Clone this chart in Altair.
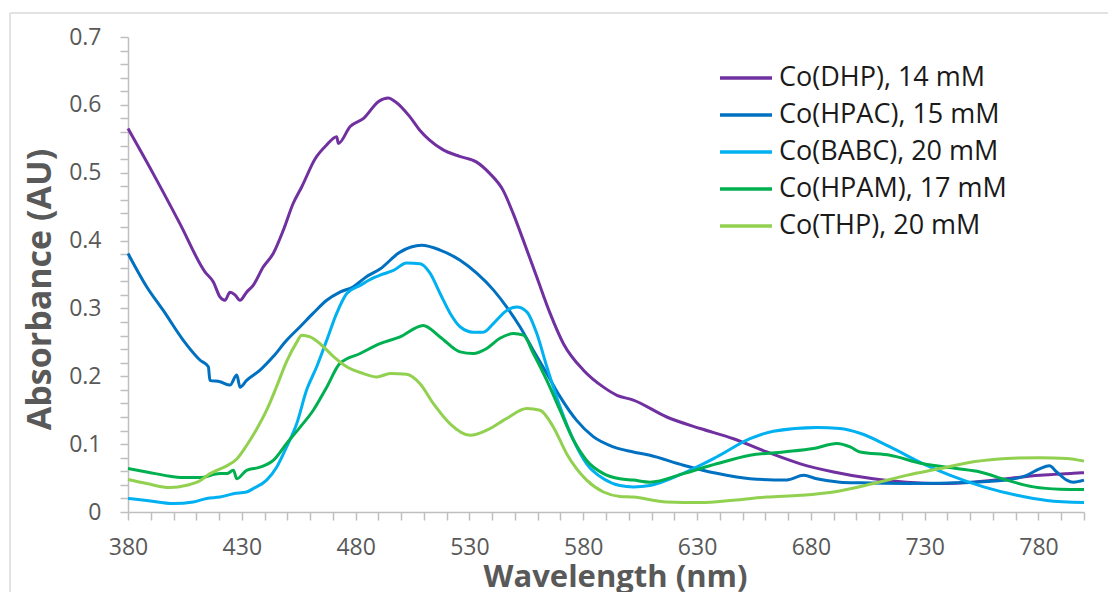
import altair as alt
import pandas as pd

# Absorption spectra of the cobalt complexes (wavelength in nm, absorbance in AU)
names = ["Co(DHP), 14 mM", "Co(HPAC), 15 mM", "Co(BABC), 20 mM", "Co(HPAM), 17 mM", "Co(THP), 20 mM"]
colors = ["#7030A0", "#0070C0", "#00B0F0", "#00B050", "#92D050"]

wl_dhp = [380, 391, 402.8, 413.8, 417.5, 420.4, 422.6, 424.8, 427, 429.2, 432.1, 435, 439.4, 443.8,
          448.2, 452.6, 456.3, 462.3, 467.3, 471.7, 472.4, 477.6, 483.5, 490.1, 494.3, 497.3, 503.7,
          508.1, 512.5, 518.3, 525.7, 533, 538.9, 544.8, 549.2, 553.6, 559.5, 565.4, 571.3, 580.1,
          588.9, 594.8, 602, 616.7, 631.4, 646, 660.7, 675.4, 690, 707.4, 722, 736.7, 751.4, 766,
          780.7, 795.3, 800]
abs_dhp = [0.565, 0.499, 0.425, 0.354, 0.339, 0.317, 0.312, 0.324, 0.320, 0.312, 0.324, 0.334, 0.361,
           0.381, 0.415, 0.455, 0.479, 0.521, 0.541, 0.553, 0.543, 0.568, 0.580, 0.605, 0.610, 0.605,
           0.583, 0.563, 0.548, 0.534, 0.524, 0.516, 0.499, 0.474, 0.440, 0.401, 0.347, 0.293, 0.248,
           0.209, 0.184, 0.172, 0.165, 0.140, 0.123, 0.108, 0.0885, 0.071, 0.059, 0.049, 0.044, 0.042,
           0.044, 0.049, 0.054, 0.057, 0.058]

wl_hpac = [380, 388.2, 395.5, 404.3, 411.6, 415.3, 416, 420.4, 424.8, 427.8, 429.2, 432.1, 438, 443.8,
           449.7, 455.6, 461.4, 467.3, 473.1, 479, 484.9, 490.7, 499.5, 509, 517.1, 525.9, 533.2,
           540.6, 546.4, 552.2, 558.1, 564, 569.8, 577.1, 584.4, 593.2, 602, 609.3, 624, 638.6, 653.3,
           669.4, 676.8, 682.6, 692.8, 701.6, 722, 751.4, 766, 774.8, 780.7, 784.8, 788, 792.4, 795.3, 800]
abs_hpac = [0.381, 0.332, 0.297, 0.253, 0.224, 0.214, 0.194, 0.192, 0.187, 0.202, 0.184, 0.194, 0.209,
            0.229, 0.253, 0.273, 0.293, 0.312, 0.324, 0.332, 0.347, 0.358, 0.383, 0.393, 0.386, 0.371,
            0.352, 0.327, 0.302, 0.273, 0.238, 0.204, 0.170, 0.135, 0.111, 0.096, 0.0885, 0.0836, 0.069,
            0.057, 0.049, 0.047, 0.054, 0.049, 0.044, 0.043, 0.042, 0.044, 0.047, 0.054, 0.064, 0.068,
            0.059, 0.047, 0.044, 0.047]

wl_babc = [380, 388.2, 399.9, 408.7, 414.6, 420.4, 426.3, 432.1, 435, 440.9, 445.3, 449.7, 454.1, 458.5,
           462.9, 467.3, 471.7, 476.1, 482, 487.8, 490.7, 496.6, 502.4, 508.3, 512.7, 517.1, 521.5,
           525.9, 531.7, 536.1, 540.6, 546.4, 550.8, 555.2, 559.6, 564, 569.8, 575.7, 581.5, 588.9,
           596.1, 602, 609.3, 624, 638.6, 653.3, 663.5, 682.6, 692.8, 701.6, 714.8, 729.4, 741.3, 755.9,
           770.5, 783.7, 800]
abs_babc = [0.020, 0.017, 0.0124, 0.0147, 0.020, 0.022, 0.027, 0.0295, 0.0345, 0.047, 0.066, 0.096,
            0.130, 0.180, 0.214, 0.253, 0.293, 0.322, 0.334, 0.345, 0.349, 0.356, 0.367, 0.366, 0.352,
            0.322, 0.293, 0.273, 0.265, 0.265, 0.278, 0.297, 0.302, 0.295, 0.263, 0.214, 0.155, 0.106,
            0.071, 0.049, 0.039, 0.037, 0.039, 0.057, 0.081, 0.108, 0.119, 0.1245, 0.123, 0.116, 0.096,
            0.071, 0.054, 0.037, 0.0246, 0.017, 0.0139]

wl_hpam = [380, 388.2, 399.9, 405.8, 411.6, 420.4, 423.4, 426.3, 427.8, 432.1, 438, 443.8, 449.7, 455.6,
           461.4, 467.3, 473.1, 482, 490.7, 499.5, 509.7, 517.1, 525.9, 531.7, 537.6, 543.4, 549.3,
           553.7, 558.1, 564, 569.8, 575.7, 581.5, 588.9, 596.1, 602, 609.3, 624, 638.6, 653.3, 668,
           681.2, 691.4, 697.3, 701.6, 714.8, 729.4, 744.1, 754.3, 766, 777.8, 789.5, 800]
abs_hpam = [0.064, 0.059, 0.052, 0.0507, 0.0507, 0.0566, 0.0566, 0.0615, 0.049, 0.0615, 0.066, 0.076,
            0.101, 0.125, 0.150, 0.184, 0.219, 0.2336, 0.248, 0.258, 0.275, 0.258, 0.236, 0.2336, 0.241,
            0.256, 0.263, 0.2606, 0.2336, 0.194, 0.150, 0.106, 0.076, 0.0566, 0.049, 0.047, 0.044,
            0.0566, 0.071, 0.0836, 0.0885, 0.0935, 0.101, 0.0959, 0.0885, 0.0836, 0.071, 0.064, 0.059,
            0.047, 0.037, 0.0335, 0.033]

wl_thp = [380, 388.2, 398.5, 405.8, 411.6, 416, 419, 423.4, 427.8, 432.1, 436.5, 440.9, 445.3, 449.7,
          454.1, 456.3, 460, 464.4, 470.3, 476.1, 483.5, 489.3, 495.2, 502.4, 508.3, 514.1, 521.5,
          530.3, 537.6, 546.4, 555.2, 561, 566.9, 572.7, 581.5, 588.9, 596.1, 602, 616.7, 631.4, 646,
          660.7, 675.4, 690, 707.4, 722, 736.7, 751.4, 766, 780.7, 792.4, 800]
abs_thp = [0.048, 0.042, 0.036, 0.0394, 0.046, 0.0566, 0.0615, 0.068, 0.078, 0.098, 0.122, 0.150,
           0.185, 0.222, 0.250, 0.2606, 0.258, 0.248, 0.229, 0.214, 0.204, 0.199, 0.204, 0.203, 0.189,
           0.160, 0.130, 0.113, 0.1205, 0.138, 0.1525, 0.150, 0.125, 0.086, 0.047, 0.0295, 0.023, 0.022,
           0.0147, 0.0139, 0.0173, 0.022, 0.0246, 0.0295, 0.042, 0.054, 0.064, 0.074, 0.079, 0.080,
           0.079, 0.075]

x_ticks = list(range(380, 801, 10))
y_ticks = [round(i * 0.02, 2) for i in range(36)]

rows = []
for name, wl, ab in zip(names, [wl_dhp, wl_hpac, wl_babc, wl_hpam, wl_thp],
                        [abs_dhp, abs_hpac, abs_babc, abs_hpam, abs_thp]):
    rows += [{"series": name, "wavelength": w, "absorbance": a} for w, a in zip(wl, ab)]
df = pd.DataFrame(rows)
legend_df = pd.DataFrame({"series": names, "idx": list(range(len(names)))})

W, H = 956, 475
frame_color = "#d9d9d9"
one = pd.DataFrame({"k": [0]})
color_scale = alt.Scale(domain=names, range=colors)

# light grey frame around the whole figure (top and left edges)
frame_top = alt.Chart(one).mark_rule(color=frame_color, strokeWidth=1.5).encode(
    x=alt.value(-118), x2=alt.value(W + 30), y=alt.value(-24)
)
frame_left = alt.Chart(one).mark_rule(color=frame_color, strokeWidth=1.5).encode(
    x=alt.value(-118), y=alt.value(-24), y2=alt.value(H + 90)
)

lines = alt.Chart(df).mark_line(strokeWidth=3, interpolate="monotone").encode(
    x=alt.X(
        "wavelength:Q",
        scale=alt.Scale(domain=[380, 800], nice=False, zero=False),
        axis=alt.Axis(
            values=x_ticks, format="d",
            labelExpr="(datum.value - 380) % 50 == 0 ? datum.label : ''",
            title="Wavelength (nm)", titleX=487, titleY=74,
            titleAlign="center", titleBaseline="alphabetic",
            labelPadding=16,
        ),
    ),
    y=alt.Y(
        "absorbance:Q",
        scale=alt.Scale(domain=[0, 0.7], nice=False),
        axis=alt.Axis(
            values=y_ticks,
            labelExpr="round(datum.value * 100) % 10 == 0 ? (datum.value == 0 ? '0' : format(datum.value, '.1f')) : ''",
            title="Absorbance (AU)", titleX=-88, titleY=252, titleAngle=270,
            titleAlign="center", titleBaseline="middle", titleFontSize=34,
            labelPadding=19,
        ),
    ),
    color=alt.Color("series:N", sort=names, scale=color_scale, legend=None),
)

# legend: a short coloured stroke and a label per series, stacked in the upper right
legend_base = alt.Chart(legend_df).transform_calculate(ly="41 + 37 * datum.idx")
legend_keys = legend_base.mark_rule(strokeWidth=3.5).encode(
    x=alt.value(592), x2=alt.value(644),
    y=alt.Y("ly:Q", scale=None),
    color=alt.Color("series:N", sort=names, scale=color_scale, legend=None),
)
legend_labels = legend_base.mark_text(
    align="left", baseline="middle", fontSize=27, font="Open Sans", color="#1a1a1a"
).encode(
    x=alt.value(651),
    y=alt.Y("ly:Q", scale=None),
    text="series:N",
)

chart = alt.layer(frame_top, frame_left, lines, legend_keys, legend_labels).properties(
    width=W, height=H,
    autosize=alt.AutoSizeParams(type="none"),
    padding={"left": 128, "top": 37, "right": 24, "bottom": 80},
).configure(
    font="Open Sans",
).configure_view(
    stroke=None,
).configure_axis(
    grid=False,
    domainColor="#bfbfbf", domainWidth=1.5,
    tickColor="#bfbfbf", tickWidth=1.5, tickSize=8,
    labelFont="Open Sans", labelFontSize=23, labelColor="#595959",
    labelFlush=False, labelOverlap=False,
    titleFont="Open Sans", titleFontSize=31, titleFontWeight="bold", titleColor="#595959",
)

chart.save("out.html", embed_options={"renderer": "svg", "actions": False})
